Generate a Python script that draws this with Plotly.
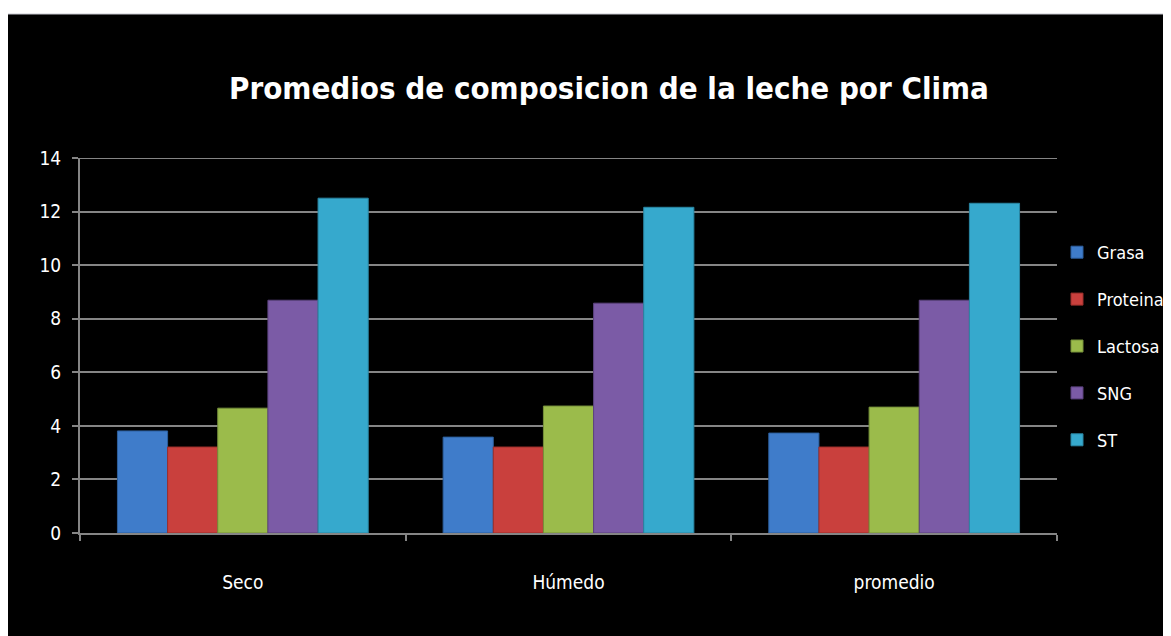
import plotly.graph_objects as go

categories = ["Seco", "Húmedo", "promedio"]
series_names = ["Grasa", "Proteina", "Lactosa", "SNG", "ST"]
grasa = [3.81, 3.58, 3.73]
proteina = [3.21, 3.21, 3.21]
lactosa = [4.66, 4.74, 4.70]
sng = [8.69, 8.58, 8.69]
st = [12.50, 12.16, 12.31]
y_ticks = [0, 2, 4, 6, 8, 10, 12, 14]

values = [grasa, proteina, lactosa, sng, st]
colors = ["#3f7cca", "#c9403d", "#9bbb4b", "#7b5ba6", "#36a9cd"]
edges = ["#2d5f9e", "#9c2f2c", "#76913a", "#5c437f", "#2a86a3"]

FONT = "DejaVu Sans Condensed, Liberation Sans Narrow, sans-serif"

fig = go.Figure()
for i, (name, vals) in enumerate(zip(series_names, values)):
    fig.add_trace(go.Bar(
        x=categories, y=vals, name=name, legendgroup=name,
        marker=dict(color=colors[i], line=dict(color=edges[i], width=1)),
    ))

# page has an 8px body margin; figure coords = screen coords - 8
OFF = 8
W, H = 1171, 636
L, R, T, B = 72, 122, 150, 111
pw, ph = W - L - R, H - T - B

def px_x(sx):
    return (sx - OFF - L) / pw

def px_y(sy):
    return (H - B - (sy - OFF)) / ph

fig.update_layout(
    width=W, height=H,
    margin=dict(l=L, r=R, t=T, b=B, autoexpand=False),
    paper_bgcolor="white",
    plot_bgcolor="#404040",
    barmode="group",
    bargap=0.23,
    bargroupgap=0,
    showlegend=True,
    legend=dict(
        x=px_x(1057), xanchor="left",
        y=px_y(234), yanchor="top",
        font=dict(family=FONT, size=18, color="white"),
        bgcolor="rgba(0,0,0,0)",
        tracegroupgap=20.5,
        itemwidth=30,
    ),
    font=dict(family=FONT, color="white"),
    shapes=[
        dict(type="rect", xref="paper", yref="paper",
             x0=px_x(8), x1=px_x(1190),
             y0=px_y(660), y1=px_y(14),
             fillcolor="black", line=dict(width=0), layer="below"),
        dict(type="line", xref="paper", yref="paper",
             x0=px_x(8), x1=px_x(1190),
             y0=px_y(14), y1=px_y(14),
             line=dict(color="#c8c8d0", width=1)),
        dict(type="line", xref="paper", yref="y",
             x0=0, x1=1, y0=14, y1=14,
             line=dict(color="#858585", width=2)),
    ],
    annotations=[
        dict(text="<b>Promedios de composicion de la leche por Clima</b>",
             xref="paper", yref="paper",
             x=px_x(609), y=px_y(88),
             xanchor="center", yanchor="middle", showarrow=False,
             font=dict(family=FONT, size=31, color="white")),
    ],
)

fig.update_yaxes(
    range=[0, 14], tickvals=y_ticks,
    showgrid=True, gridcolor="#858585", gridwidth=2,
    showline=True, linecolor="#858585", linewidth=2,
    ticks="outside", ticklen=6, tickcolor="#858585", tickwidth=2,
    tickfont=dict(family=FONT, size=19, color="white"),
    ticklabelstandoff=7,
    zeroline=False, fixedrange=True,
)
fig.update_xaxes(
    showline=True, linecolor="#858585", linewidth=2,
    ticks="outside", ticklen=6, tickcolor="#858585", tickwidth=2,
    tickson="boundaries",
    tickfont=dict(family=FONT, size=19, color="white"),
    ticklabelstandoff=31,
    showgrid=False, fixedrange=True,
)

fig.write_html("out.html")
